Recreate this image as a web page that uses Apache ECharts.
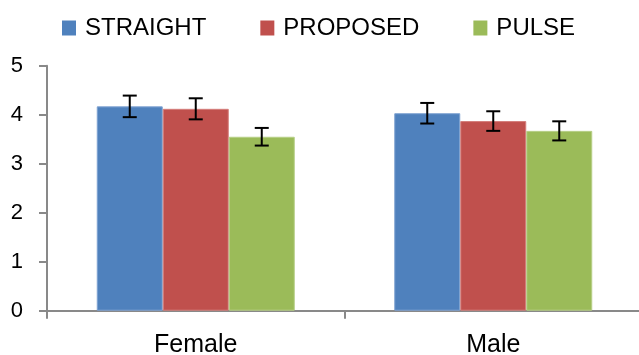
<!DOCTYPE html>
<html>
<head>
<meta charset="utf-8">
<script src="https://cdn.jsdelivr.net/npm/echarts@6/dist/echarts.min.js"></script>
<style>html,body{margin:0;padding:0;background:#fff;}#c{width:639px;height:355px;}</style>
</head>
<body>
<div id="c"></div>
<script>
var categories = ['Female', 'Male'];
var seriesNames = ['STRAIGHT', 'PROPOSED', 'PULSE'];
var straight = [4.17, 4.03];
var proposed = [4.12, 3.87];
var pulse = [3.55, 3.67];
var straightErr = [0.22, 0.21];
var proposedErr = [0.215, 0.20];
var pulseErr = [0.18, 0.195];
var yTicks = [0, 1, 2, 3, 4, 5];

var colors = ['#4F81BD', '#C0504D', '#9BBB59'];
var borders = ['#7FA3D2', '#D47E7B', '#B7CF87'];
var values = [straight, proposed, pulse];
var errs = [straightErr, proposedErr, pulseErr];
var BAR_W = 66;

var chart = echarts.init(document.getElementById('c'), null, {renderer: 'canvas'});
var series = [];
values.forEach(function (vals, i) {
  series.push({
    name: seriesNames[i],
    type: 'bar',
    data: vals,
    barWidth: BAR_W,
    barGap: '0%',
    itemStyle: {color: colors[i], borderColor: borders[i], borderWidth: 1},
    emphasis: {disabled: true}
  });
});
values.forEach(function (vals, i) {
  var data = vals.map(function (v, k) { return [k, v, errs[i][k]]; });
  series.push({
    type: 'custom',
    silent: true,
    z: 10,
    data: data,
    renderItem: function (params, api) {
      var idx = api.value(0), v = api.value(1), e = api.value(2);
      var hi = api.coord([idx, v + e]);
      var lo = api.coord([idx, v - e]);
      var x = hi[0] + (i - 1) * BAR_W;
      var hw = 7;
      var st = {stroke: '#000', lineWidth: 2};
      return {
        type: 'group',
        children: [
          {type: 'line', shape: {x1: x, y1: hi[1], x2: x, y2: lo[1]}, style: st},
          {type: 'line', shape: {x1: x - hw, y1: hi[1], x2: x + hw, y2: hi[1]}, style: st},
          {type: 'line', shape: {x1: x - hw, y1: lo[1], x2: x + hw, y2: lo[1]}, style: st}
        ]
      };
    }
  });
});

chart.setOption({
  animation: false,
  textStyle: {fontFamily: 'Liberation Sans, Arial, sans-serif'},
  legend: {
    data: seriesNames,
    top: 16,
    left: 62,
    padding: 0,
    itemWidth: 14,
    itemHeight: 15,
    itemGap: 54,
    icon: 'rect',
    itemStyle: {borderWidth: 0},
    textStyle: {fontSize: 24, color: '#000', padding: [0, 0, 0, 4]},
    selectedMode: false
  },
  grid: {left: 47, top: 65.7, width: 595, height: 245, containLabel: false, outerBoundsMode: 'none'},
  xAxis: {
    type: 'category',
    data: categories,
    axisLine: {lineStyle: {color: '#898989', width: 2}},
    axisTick: {show: true, length: 8, lineStyle: {color: '#898989', width: 2}},
    axisLabel: {fontSize: 25, color: '#000', margin: 22}
  },
  yAxis: {
    type: 'value',
    min: yTicks[0],
    max: yTicks[yTicks.length - 1],
    interval: 1,
    axisLine: {show: true, lineStyle: {color: '#898989', width: 2}},
    axisTick: {show: true, length: 8, lineStyle: {color: '#898989', width: 2}},
    splitLine: {show: false},
    axisLabel: {fontSize: 22, color: '#000', margin: 24}
  },
  series: series
});
</script>
</body>
</html>
